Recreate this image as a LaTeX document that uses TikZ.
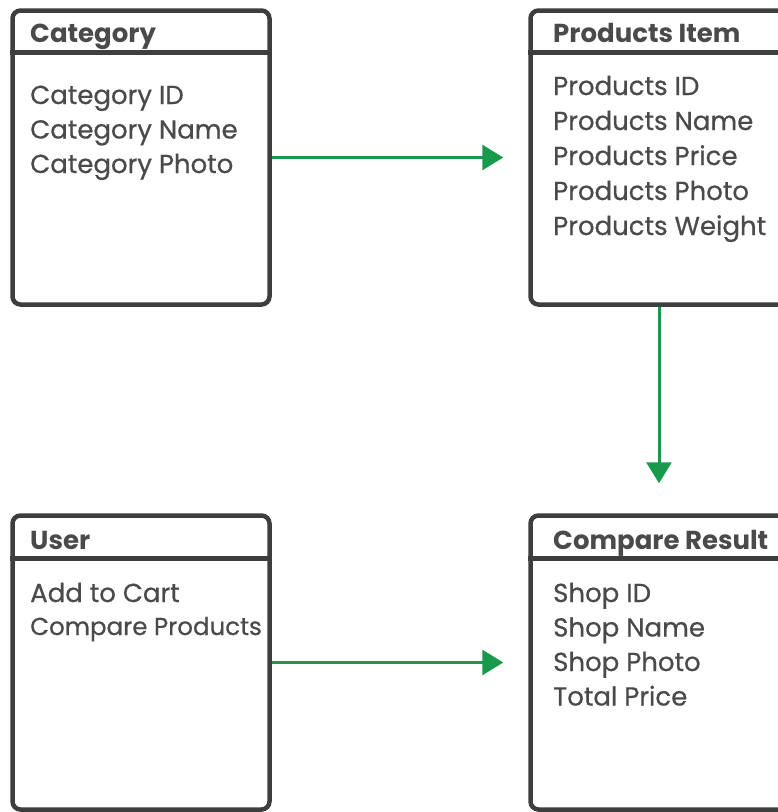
\documentclass[tikz,border=0pt]{standalone}
\usepackage{fontspec}
\setmainfont{Poppins}
\newfontfamily\fieldfont[FakeBold=0.6]{Poppins}
\usepackage{xcolor}
\usetikzlibrary{arrows.meta}
\definecolor{boxgray}{HTML}{3E3E3E}
\definecolor{textgray}{HTML}{4A4A4A}
\definecolor{linkgreen}{HTML}{18994B}

\begin{document}
\begin{tikzpicture}[x=1pt,y=-1pt]
	\tikzstyle{table}=[draw=boxgray,line width=4.5pt,rounded corners=8pt,minimum width=257pt,minimum height=294pt]
	\tikzstyle{sep}=[draw=boxgray,line width=4.5pt]
	\tikzstyle{head}=[anchor=base west,inner sep=0pt,text=textgray,font=\fontsize{26}{30}\selectfont\bfseries]
	\tikzstyle{field}=[anchor=base west,inner sep=0pt,text=textgray,font=\fontsize{26}{30}\fieldfont]
	\tikzstyle{link}=[draw=linkgreen,line width=3pt,-{Triangle[length=21pt,width=25pt]}]
	\useasboundingbox (0,0) rectangle (778,812);
	\clip (0,0) rectangle (778,812);
	% tables
	\node[table](cat) at (141,157.5) {};
	\node[table](prod) at (659,157.5) {};
	\node[table](usr) at (141,662.5) {};
	\node[table](res) at (659,662.5) {};
	\draw[sep] ([yshift=-44pt]cat.north west) -- ([yshift=-44pt]cat.north east);
	\draw[sep] ([yshift=-44pt]prod.north west) -- ([yshift=-44pt]prod.north east);
	\draw[sep] ([yshift=-45pt]usr.north west) -- ([yshift=-45pt]usr.north east);
	\draw[sep] ([yshift=-45pt]res.north west) -- ([yshift=-45pt]res.north east);
	% headers
	\node[head](cath) at (30,42) {Category};
	\node[head](prodh) at (553,42) {Products Item};
	\node[head](usrh) at (30,549) {User};
	\node[head](resh) at (553,549) {Compare Result};
	% fields
	\node[field](cat1) at (30,104) {Category ID};
	\node[field](cat2) at (30,138.5) {Category Name};
	\node[field](cat3) at (30,173) {Category Photo};
	\node[field](prod1) at (553,95) {Products ID};
	\node[field](prod2) at (553,130) {Products Name};
	\node[field](prod3) at (553,165) {Products Price};
	\node[field](prod4) at (553,200) {Products Photo};
	\node[field](prod5) at (553,235) {Products Weight};
	\node[field](usr1) at (30,602) {Add to Cart};
	\node[field,font=\fontsize{24.5}{30}\fieldfont](usr2) at (30,635) {Compare Products};
	\node[field](res1) at (553,602) {Shop ID};
	\node[field](res2) at (553,636.5) {Shop Name};
	\node[field](res3) at (553,671) {Shop Photo};
	\node[field](res4) at (553,705.5) {Total Price};
	% links
	\draw[link,shorten >=25pt](cat.east) -- (res.west |- cat.east);
	\draw[link,shorten >=30pt](prod.south) -- (res.north);
	\draw[link,shorten >=25pt](usr.east) -- (res.west);
\end{tikzpicture}
\end{document}
